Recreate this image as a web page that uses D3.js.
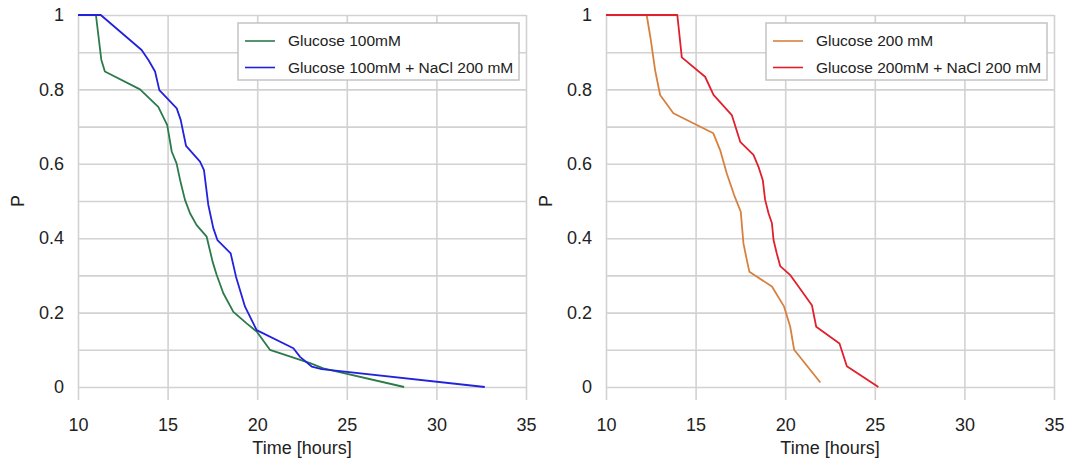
<!DOCTYPE html>
<html>
<head>
<meta charset="utf-8">
<script src="https://cdn.jsdelivr.net/npm/d3@7"></script>
<style>
  body { margin: 0; background: #fff; }
  svg { display: block; font-family: Arial, "Liberation Sans", sans-serif; }
</style>
</head>
<body>
<svg id="chart" width="1079" height="460"></svg>
<script>
// --- data (time in hours, P) ---
const xTicks = [10, 15, 20, 25, 30, 35]
const yLabelTicks = [0, 0.2, 0.4, 0.6, 0.8, 1]
const yGridTicks = [0, 0.1, 0.2, 0.3, 0.4, 0.5, 0.6, 0.7, 0.8, 0.9, 1]

const glc100Time = [10, 11.0, 11.3, 11.5, 13.46, 14.48, 14.98, 15.23, 15.5, 15.7, 15.97, 16.25, 16.62, 17.18, 17.51, 17.74, 18.11, 18.67, 19.41, 19.97, 20.71, 22.95, 23.69, 28.2]
const glc100P = [1, 1, 0.88, 0.848, 0.8, 0.753, 0.704, 0.633, 0.601, 0.556, 0.503, 0.467, 0.435, 0.404, 0.337, 0.301, 0.252, 0.202, 0.171, 0.149, 0.1, 0.064, 0.05, 0]

const glc100NaClTime = [10, 11.27, 13.55, 13.93, 14.3, 14.54, 15.51, 15.73, 16.03, 16.81, 17.03, 17.27, 17.55, 17.78, 18.52, 18.82, 19.32, 19.97, 22.02, 22.39, 23.04, 23.6, 32.7]
const glc100NaClP = [1, 1, 0.906, 0.879, 0.848, 0.798, 0.749, 0.718, 0.648, 0.606, 0.583, 0.49, 0.427, 0.395, 0.359, 0.296, 0.216, 0.153, 0.104, 0.081, 0.055, 0.048, 0]

const glc200Time = [10, 12.27, 12.5, 12.74, 13.02, 13.76, 15.99, 16.37, 16.74, 17.15, 17.52, 17.67, 17.86, 18.0, 19.26, 19.94, 20.28, 20.5, 21.96]
const glc200P = [1, 1, 0.933, 0.852, 0.785, 0.736, 0.682, 0.637, 0.574, 0.516, 0.471, 0.386, 0.341, 0.31, 0.27, 0.216, 0.162, 0.1, 0.012]

const glc200NaClTime = [10, 13.98, 14.23, 15.53, 16.0, 17.02, 17.49, 18.23, 18.51, 18.75, 18.88, 19.07, 19.26, 19.35, 19.53, 19.72, 20.3, 21.49, 21.73, 23.03, 23.44, 25.2]
const glc200NaClP = [1, 1, 0.886, 0.834, 0.785, 0.731, 0.659, 0.624, 0.592, 0.556, 0.503, 0.467, 0.44, 0.395, 0.359, 0.325, 0.3, 0.22, 0.162, 0.117, 0.056, 0]

const panels = [
  {
    x0: 78,
    series: [
      { name: 'Glucose 100mM', color: '#2b7a4b', time: glc100Time, p: glc100P },
      { name: 'Glucose 100mM + NaCl 200 mM', color: '#2222dd', time: glc100NaClTime, p: glc100NaClP }
    ]
  },
  {
    x0: 606,
    series: [
      { name: 'Glucose 200 mM', color: '#d8803f', time: glc200Time, p: glc200P },
      { name: 'Glucose 200mM + NaCl 200 mM', color: '#e0202c', time: glc200NaClTime, p: glc200NaClP }
    ]
  }
]

const svg = d3.select('#chart')
const plotW = 448
const yTop = 15
const yBottom = 387
const gridColor = '#d2d2d2'

function drawPanel (panel) {
  const x = d3.scaleLinear().domain([10, 35]).range([panel.x0, panel.x0 + plotW])
  const y = d3.scaleLinear().domain([0, 1]).range([yBottom, yTop])
  const g = svg.append('g')

  // horizontal grid every 0.1
  g.append('g')
    .attr('transform', `translate(${panel.x0},0)`)
    .call(d3.axisLeft(y).tickValues(yGridTicks).tickSize(-plotW).tickFormat(''))
    .call(a => a.select('.domain').remove())
    .selectAll('line').attr('stroke', gridColor).attr('stroke-width', 1.6)

  // vertical grid + ticks hanging below the axis
  g.append('g')
    .attr('transform', `translate(0,${yBottom + 13})`)
    .call(d3.axisBottom(x).tickValues(xTicks).tickSize(-(yBottom + 13 - yTop)).tickFormat(''))
    .call(a => a.select('.domain').remove())
    .selectAll('line').attr('stroke', gridColor).attr('stroke-width', 1.6)

  // x tick labels
  g.append('g')
    .attr('transform', `translate(0,${yBottom})`)
    .call(d3.axisBottom(x).tickValues(xTicks).tickSize(0).tickPadding(31))
    .call(a => a.select('.domain').remove())
    .selectAll('text').attr('font-size', 18).attr('fill', '#222')
    .attr('font-family', 'Arial, "Liberation Sans", sans-serif')

  // y tick labels
  g.append('g')
    .attr('transform', `translate(${panel.x0},0)`)
    .call(d3.axisLeft(y).tickValues(yLabelTicks).tickSize(0).tickPadding(14)
      .tickFormat(d => String(d)))
    .call(a => a.select('.domain').remove())
    .selectAll('text').attr('font-size', 18).attr('fill', '#222')
    .attr('font-family', 'Arial, "Liberation Sans", sans-serif')

  // axis titles
  g.append('text')
    .attr('x', panel.x0 + plotW / 2)
    .attr('y', 454)
    .attr('text-anchor', 'middle')
    .attr('font-size', 18)
    .attr('fill', '#222')
    .text('Time [hours]')

  g.append('text')
    .attr('transform', `translate(${panel.x0 - 54},${(yTop + yBottom) / 2}) rotate(-90)`)
    .attr('text-anchor', 'middle')
    .attr('font-size', 18)
    .attr('fill', '#222')
    .text('P')

  // curves
  const line = d3.line().x(d => x(d[0])).y(d => y(d[1]))
  panel.series.forEach(s => {
    g.append('path')
      .datum(s.time.map((t, i) => [t, s.p[i]]))
      .attr('d', line)
      .attr('fill', 'none')
      .attr('stroke', s.color)
      .attr('stroke-width', 1.8)
      .attr('stroke-linejoin', 'round')
  })

  // legend
  const lg = g.append('g').attr('transform', `translate(${panel.x0 + 160},23)`)
  lg.append('rect')
    .attr('width', 281)
    .attr('height', 57)
    .attr('fill', '#fff')
    .attr('stroke', '#c4c4c4')
    .attr('stroke-width', 1.5)
  panel.series.forEach((s, i) => {
    const row = lg.append('g').attr('transform', `translate(0,${18 + i * 26.5})`)
    row.append('line')
      .attr('x1', 7).attr('x2', 37)
      .attr('stroke', s.color).attr('stroke-width', 1.6)
    row.append('text')
      .attr('x', 50)
      .attr('dy', '0.35em')
      .attr('font-size', 15.5)
      .attr('fill', '#222')
      .text(s.name)
  })
}

panels.forEach(drawPanel)
</script>
</body>
</html>
